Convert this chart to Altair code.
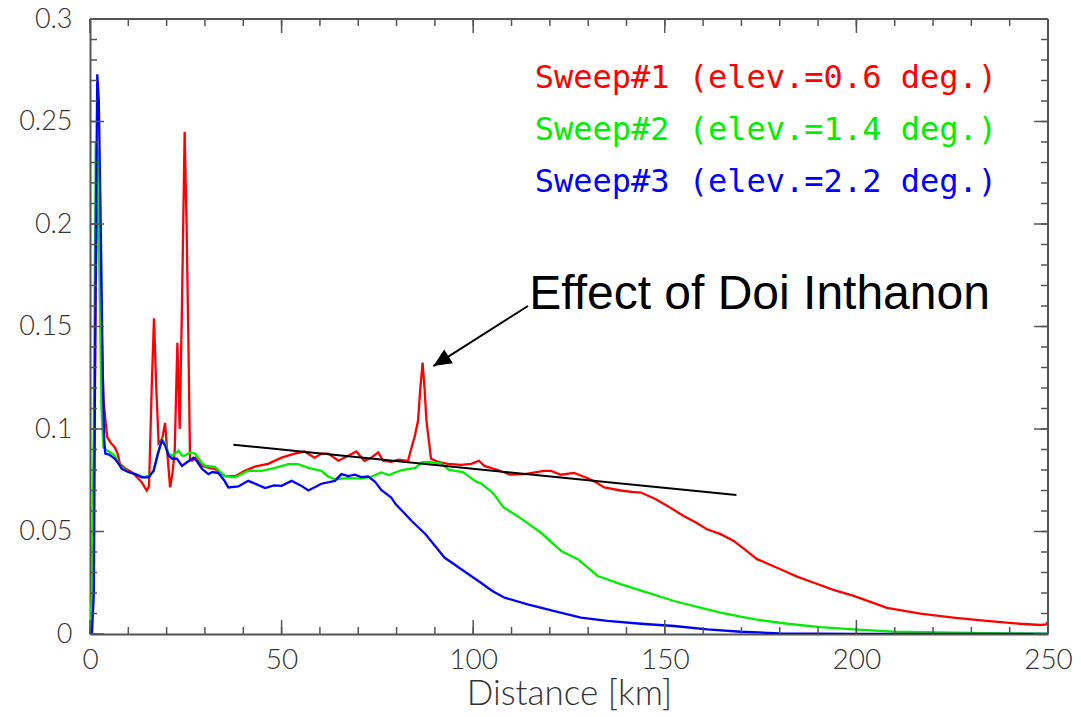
import math
import altair as alt
import pandas as pd

# ---------------- data ----------------
sweep_names = ["Sweep#1 (elev.=0.6 deg.)", "Sweep#2 (elev.=1.4 deg.)", "Sweep#3 (elev.=2.2 deg.)"]
sweep_colors = ["#ff0000", "#00ee00", "#0000ff"]

red_x = [0.0, 0.5, 1.0, 1.5, 2.0, 2.5, 3.0, 3.5, 4.0, 4.5, 5.5, 6.5, 7.2, 7.8, 9.0, 10.9, 12.5, 13.5,
         14.8, 15.4, 16.1, 16.7, 17.3, 17.9, 18.8, 19.6, 20.1, 20.9, 21.5, 22.1, 22.8, 23.4, 24.0,
         24.7, 25.2, 25.7, 26.1, 26.6, 27.5, 29.2, 31.0, 32.6, 35.2, 37.8, 40.4, 43.0, 46.5, 50.0,
         53.4, 56.0, 58.6, 60.5, 62.2, 64.8, 67.4, 69.5, 71.6, 73.4, 75.2, 76.5, 78.6, 80.4, 83.0,
         83.9, 84.7, 85.6, 86.2, 86.8, 87.3, 87.8, 89.0, 90.8, 93.4, 96.9, 99.5, 101.5, 102.9, 106.4,
         109.6, 113.4, 118.5, 120.3, 122.9, 126.3, 129.9, 132.0, 134.2, 138.5, 141.4, 143.8, 147.4,
         150.7, 154.7, 158.0, 161.0, 164.6, 168.0, 171.0, 174.1, 180.2, 184.5, 188.9, 194.0, 199.3,
         208.0, 216.7, 225.3, 234.0, 242.7, 248.0, 249.5, 250.0]
red_y = [0.0, 0.02, 0.07, 0.17, 0.22, 0.2, 0.15, 0.115, 0.105, 0.096, 0.093, 0.091, 0.088, 0.083,
         0.081, 0.079, 0.076, 0.074, 0.070, 0.072, 0.12, 0.154, 0.12, 0.093, 0.095, 0.103, 0.09,
         0.0715, 0.078, 0.089, 0.142, 0.1, 0.16, 0.245, 0.2, 0.14, 0.085, 0.0845, 0.086, 0.082,
         0.081, 0.0805, 0.077, 0.077, 0.0796, 0.0816, 0.083, 0.086, 0.088, 0.089, 0.086, 0.088,
         0.088, 0.0845, 0.087, 0.089, 0.0845, 0.086, 0.0886, 0.0845, 0.084, 0.085, 0.0845, 0.091,
         0.096, 0.104, 0.12, 0.1324, 0.12, 0.104, 0.0855, 0.084, 0.083, 0.0825, 0.083, 0.0845,
         0.082, 0.080, 0.0777, 0.078, 0.0796, 0.0796, 0.0777, 0.0786, 0.076, 0.074, 0.0715, 0.070,
         0.0693, 0.069, 0.066, 0.0625, 0.0578, 0.0545, 0.0511, 0.0487, 0.0454, 0.041, 0.0365,
         0.0316, 0.028, 0.025, 0.0215, 0.0186, 0.0128, 0.0099, 0.008, 0.0064, 0.005, 0.0044,
         0.0047, 0.006]

green_x = [0.0, 0.5, 1.0, 1.5, 2.0, 2.5, 3.0, 3.5, 4.0, 5.0, 6.5, 7.5, 8.3, 10.0, 11.8, 14.3, 15.5,
           16.6, 17.8, 18.75, 19.6, 20.5, 21.5, 23.1, 24.0, 24.8, 26.0, 27.4, 29.0, 30.0, 32.6,
           35.2, 37.8, 39.5, 41.3, 44.8, 48.3, 51.7, 54.3, 57.0, 60.4, 62.0, 63.9, 67.4, 70.8,
           73.4, 76.0, 78.0, 80.0, 81.4, 84.9, 86.7, 88.7, 91.6, 93.7, 97.3, 100.8, 102.0, 104.4,
           105.5, 107.8, 111.5, 117.6, 123.0, 127.3, 132.5, 138.5, 145.5, 152.4, 161.1, 164.6,
           169.8, 173.3, 182.0, 190.6, 199.3, 209.7, 225.0, 240.0, 250.0]
green_y = [0.0, 0.02, 0.1, 0.24, 0.235, 0.17, 0.11, 0.091, 0.090, 0.089, 0.087, 0.083, 0.0812,
           0.079, 0.078, 0.0764, 0.0775, 0.0796, 0.088, 0.095, 0.093, 0.088, 0.087, 0.0894, 0.087,
           0.087, 0.0885, 0.088, 0.084, 0.082, 0.0815, 0.077, 0.0764, 0.078, 0.0796, 0.0796, 0.081,
           0.0829, 0.0829, 0.081, 0.0796, 0.077, 0.0755, 0.076, 0.0758, 0.0767, 0.0788, 0.0775,
           0.079, 0.080, 0.081, 0.0838, 0.0838, 0.0832, 0.080, 0.079, 0.0743, 0.0735, 0.070, 0.068,
           0.062, 0.0576, 0.0495, 0.0405, 0.0365, 0.0283, 0.0243, 0.0202, 0.0161, 0.012, 0.0104,
           0.0085, 0.0072, 0.005, 0.0034, 0.0023, 0.0012, 0.0006, 0.0003, 0.0002]

blue_x = [0.0, 0.5, 1.0, 1.5, 1.9, 2.3, 2.8, 3.3, 3.7, 4.0, 5.0, 6.5, 7.5, 8.3, 10.0, 11.8, 13.5,
          15.3, 16.6, 17.7, 18.75, 19.6, 20.5, 21.5, 22.7, 24.0, 25.5, 27.0, 28.0, 29.2, 30.9,
          32.0, 33.5, 35.0, 36.1, 38.7, 41.3, 43.5, 45.7, 48.0, 50.0, 52.6, 55.0, 57.0, 60.4,
          63.9, 65.6, 67.4, 69.1, 70.8, 72.6, 74.4, 76.0, 78.6, 79.7, 82.0, 84.0, 87.5, 89.0,
          92.5, 96.9, 102.0, 105.0, 108.2, 114.2, 121.2, 128.1, 135.0, 143.8, 152.4, 161.1,
          169.8, 180.0, 200.0, 250.0]
blue_y = [0.0, 0.0, 0.02, 0.19, 0.273, 0.26, 0.2, 0.13, 0.095, 0.088, 0.0875, 0.0855, 0.083,
          0.0806, 0.079, 0.078, 0.0764, 0.0764, 0.0796, 0.088, 0.0943, 0.092, 0.087, 0.0855,
          0.0855, 0.082, 0.084, 0.086, 0.084, 0.0806, 0.078, 0.079, 0.0785, 0.075, 0.0715, 0.072,
          0.0747, 0.073, 0.0712, 0.0725, 0.0723, 0.0747, 0.0725, 0.070, 0.0733, 0.0747, 0.078,
          0.077, 0.0777, 0.0765, 0.0768, 0.0742, 0.0703, 0.0666, 0.0635, 0.059, 0.055, 0.0488,
          0.0454, 0.0373, 0.0316, 0.025, 0.021, 0.0177, 0.0145, 0.0112, 0.008, 0.0064, 0.005,
          0.0039, 0.0023, 0.0011, 0.0003, 0.0001, 0.0]

# tick values
x_major = [0, 50, 100, 150, 200, 250]
x_minor = list(range(0, 251, 10))
y_major = [0, 0.05, 0.1, 0.15, 0.2, 0.25, 0.3]
y_minor = [round(i * 0.01, 2) for i in range(0, 31)]

# annotation (data coordinates)
trend_x = [37.4, 168.7]
trend_y = [0.0923, 0.0678]
arrow_x = [114.3, 89.6]      # start, tip
arrow_y = [0.160, 0.1307]
note_text = "Effect of Doi Inthanon"
note_x = 114.6
note_y = 0.1652
x_title = "Distance [km]"

# ---------------- chart ----------------
W, H = 958, 615
XD, YD = [0, 250], [0, 0.3]
FRAME = "#555555"
LABEL_FONT = "Lato"

rows = []
for name, xs, ys in zip(sweep_names, [red_x, green_x, blue_x], [red_y, green_y, blue_y]):
    for a, b in zip(xs, ys):
        rows.append({"dist": a, "val": b, "sweep": name})
df = pd.DataFrame(rows)

xs_ = alt.Scale(domain=XD, nice=False, zero=False)
ys_ = alt.Scale(domain=YD, nice=False, zero=False)

lines = alt.Chart(df).mark_line(strokeWidth=2.3, clip=True).encode(
    x=alt.X("dist:Q", scale=xs_, axis=alt.Axis(
        orient="bottom", values=x_major, ticks=False, tickSize=0, grid=False,
        domain=True, domainColor=FRAME, domainWidth=2,
        labelFont=LABEL_FONT, labelFontWeight=300, labelFontSize=28, labelColor="#333333",
        labelPadding=12, labelFlush=False,
        title=x_title, titleFont=LABEL_FONT, titleFontWeight=300, titleFontSize=35,
        titleColor="#333333", titlePadding=2)),
    y=alt.Y("val:Q", scale=ys_, axis=alt.Axis(
        orient="left", values=y_major, format="~g", ticks=False, tickSize=0, grid=False,
        domain=True, domainColor=FRAME, domainWidth=2,
        labelFont=LABEL_FONT, labelFontWeight=300, labelFontSize=27, labelColor="#333333",
        labelPadding=18, labelFlush=False, title=None)),
    color=alt.Color("sweep:N", scale=alt.Scale(domain=sweep_names, range=sweep_colors), legend=None),
)


# inward tick marks on all four sides, drawn through the scales
def xticks(vals, size):
    d = pd.DataFrame({"v": vals})
    enc_x = alt.X("v:Q", scale=xs_, axis=None)
    bottom = alt.Chart(d).mark_rule(color=FRAME, strokeWidth=1.5).encode(
        x=enc_x, y=alt.value(H), y2=alt.value(H - size))
    top = alt.Chart(d).mark_rule(color=FRAME, strokeWidth=1.5).encode(
        x=enc_x, y=alt.value(0), y2=alt.value(size))
    return [bottom, top]


def yticks(vals, size):
    d = pd.DataFrame({"v": vals})
    enc_y = alt.Y("v:Q", scale=ys_, axis=None)
    left = alt.Chart(d).mark_rule(color=FRAME, strokeWidth=1.5).encode(
        y=enc_y, x=alt.value(0), x2=alt.value(size))
    right = alt.Chart(d).mark_rule(color=FRAME, strokeWidth=1.5).encode(
        y=enc_y, x=alt.value(W), x2=alt.value(W - size))
    return [left, right]


tick_layers = xticks(x_minor, 7) + xticks(x_major, 14) + yticks(y_minor, 7) + yticks(y_major, 14)

frame_one = pd.DataFrame({"k": [0]})
top_edge = alt.Chart(frame_one).mark_rule(color=FRAME, strokeWidth=2).encode(
    x=alt.value(0), x2=alt.value(W), y=alt.value(0))
right_edge = alt.Chart(frame_one).mark_rule(color=FRAME, strokeWidth=2).encode(
    x=alt.value(W), y=alt.value(0), y2=alt.value(H))

trend_df = pd.DataFrame({"x": [trend_x[0]], "y": [trend_y[0]], "x2": [trend_x[1]], "y2": [trend_y[1]]})
trend = alt.Chart(trend_df).mark_rule(color="black", strokeWidth=2).encode(
    x=alt.X("x:Q", scale=xs_, axis=None), y=alt.Y("y:Q", scale=ys_, axis=None),
    x2="x2:Q", y2="y2:Q")

arrow_df = pd.DataFrame({"x": [arrow_x[0]], "y": [arrow_y[0]], "x2": [arrow_x[1]], "y2": [arrow_y[1]]})
arrow_line = alt.Chart(arrow_df).mark_rule(color="black", strokeWidth=2).encode(
    x=alt.X("x:Q", scale=xs_, axis=None), y=alt.Y("y:Q", scale=ys_, axis=None),
    x2="x2:Q", y2="y2:Q")

dxp = (arrow_x[1] - arrow_x[0]) * W / (XD[1] - XD[0])
dyp = -(arrow_y[1] - arrow_y[0]) * H / (YD[1] - YD[0])
ang = math.degrees(math.atan2(dxp, -dyp)) % 360

head_df = pd.DataFrame({"x": [arrow_x[1]], "y": [arrow_y[1]]})
arrow_head = alt.Chart(head_df).mark_point(
    shape="M0,0 L-0.45,1 L0.45,1 Z", filled=True, color="black", opacity=1,
    size=(2 * 18) ** 2, angle=ang, strokeWidth=0).encode(
    x=alt.X("x:Q", scale=xs_, axis=None), y=alt.Y("y:Q", scale=ys_, axis=None))

note_df = pd.DataFrame({"x": [note_x], "y": [note_y], "t": [note_text]})
note = alt.Chart(note_df).mark_text(
    align="left", baseline="middle", font="Liberation Sans", fontSize=48, color="black").encode(
    x=alt.X("x:Q", scale=xs_, axis=None), y=alt.Y("y:Q", scale=ys_, axis=None), text="t:N")

legend_layers = []
for i, (name, col) in enumerate(zip(sweep_names, sweep_colors)):
    legend_layers.append(
        alt.Chart(pd.DataFrame({"t": [name]})).mark_text(
            align="right", baseline="middle", font="DejaVu Sans Mono", fontSize=32,
            fontWeight=300, color=col).encode(
            text="t:N", x=alt.value(907), y=alt.value(59 + 52 * i)))

chart = alt.layer(
    lines, *tick_layers, top_edge, right_edge, trend, arrow_line, arrow_head, note, *legend_layers
).resolve_axis(x="independent", y="independent").properties(
    width=W, height=H,
    autosize=alt.AutoSizeParams(type="none"),
    padding={"left": 90, "top": 19, "right": 33, "bottom": 83},
).configure_view(stroke=None).configure(background="white")

chart.save("out.html", embed_options={"renderer": "svg", "actions": False})
